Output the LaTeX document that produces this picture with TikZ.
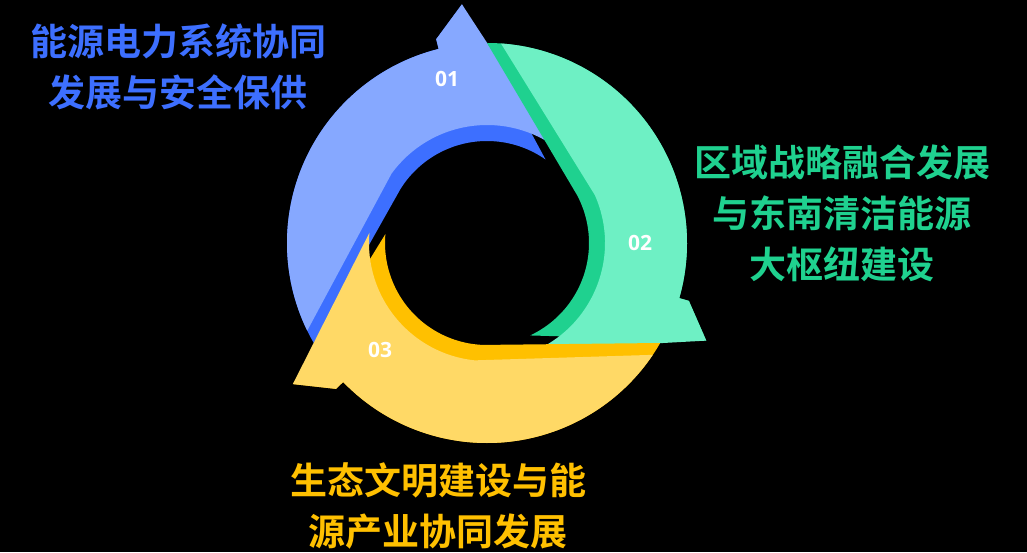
\documentclass[tikz,border=0pt]{standalone}
\usepackage{fontspec}
\setmainfont{Noto Sans CJK SC}[BoldFont={* Bold}]
\newfontfamily\labelfont{Open Sans}
\usetikzlibrary{positioning}
\definecolor{blueL}{HTML}{86A8FF}
\definecolor{blueD}{HTML}{3D6FFF}
\definecolor{greenL}{HTML}{6EF0C4}
\definecolor{greenD}{HTML}{1FD18F}
\definecolor{yelL}{HTML}{FFD966}
\definecolor{yelD}{HTML}{FFC000}
\tikzset{
  title/.style={font=\bfseries\fontsize{37}{51}\selectfont, align=center},
  num/.style={font=\labelfont\bfseries\fontsize{21}{23}\selectfont, text=white}
}
\begin{document}
\begin{tikzpicture}[x=1pt, y=1pt]
  \useasboundingbox (0,0) rectangle (1027,552);
  \fill[black] (0,0) rectangle (1027,552);

  % ring segments
  \begin{scope}[shift={(487,309)}]
    \foreach \a/\lc/\dc in {210/blueL/blueD, 90/greenL/greenD, -30/yelL/yelD}{
      \pgfmathsetmacro{\e}{\a-106}
      \pgfmathsetmacro{\t}{\a-114}
      \pgfmathsetmacro{\f}{\a-155}
      \pgfmathsetmacro{\b}{\a-62}
      \pgfmathsetmacro{\s}{\a-4}
      \pgfmathsetmacro{\q}{\a-66}
      \fill[\dc] (\a:200) arc[start angle=\a, end angle=\e, radius=200]
        -- (\e:210) -- (\t:240) -- (\f:102)
        arc[start angle=\f, end angle=\b, radius=102] -- cycle;
      \fill[\lc] (\s:200) arc[start angle=\s, end angle=\e, radius=200]
        -- (\e:210) -- (\t:240) -- (\f:118)
        arc[start angle=\f, end angle=\q, radius=118] -- cycle;
    }
  \end{scope}

  % numbers
  \node[num] (n1) at (447,473) {01};
  \node[num] (n2) at (640,309) {02};
  \node[num] (n3) at (380,202) {03};

  % titles
  \node[title, text=blueD] (t1) at (178,485) {能源电力系统协同\\发展与安全保供};
  \node[title, text=greenD] (t2) at (842,339) {区域战略融合发展\\与东南清洁能源\\大枢纽建设};
  \node[title, text=yelD] (t3) at (438,46) {生态文明建设与能\\源产业协同发展};
\end{tikzpicture}
\end{document}
